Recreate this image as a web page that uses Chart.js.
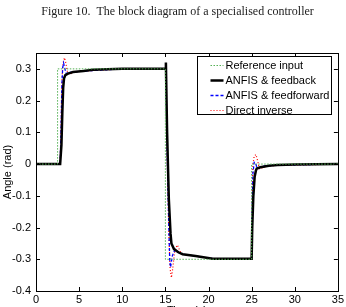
<!DOCTYPE html>
<html>
<head>
<meta charset="utf-8">
<script src="https://cdn.jsdelivr.net/npm/chart.js@4"></script>
<style>
  body { margin: 0; background: #fff; overflow: hidden; }
  #wrap { width: 346px; height: 322px; }
</style>
</head>
<body>
<div id="wrap"><canvas id="chart"></canvas></div>
<script>
// tick values
const xTicks = [0, 5, 10, 15, 20, 25, 30, 35];
const yTicks = [-0.4, -0.3, -0.2, -0.1, 0, 0.1, 0.2, 0.3];

// reference input (step)
const refTime = [0, 2.5, 2.5, 15, 15, 25, 25, 35];
const refAngle = [0, 0, 0.3, 0.3, -0.3, -0.3, 0, 0];

// ANFIS & feedback
const fbTime = [0, 2.8, 2.95, 3.05, 3.15, 3.25, 3.4, 3.7, 4.3, 5.5, 6.6, 10, 15, 15.06, 15.2, 15.4, 15.6, 15.7, 16, 16.5, 17, 18.5, 20.5, 25, 25.07, 25.2, 25.35, 25.5, 25.6, 26, 27, 28, 30, 35];
const fbAngle = [0, 0, 0.06, 0.16, 0.24, 0.27, 0.28, 0.285, 0.29, 0.293, 0.297, 0.3, 0.3, 0.32, 0.1, -0.11, -0.22, -0.25, -0.268, -0.278, -0.284, -0.29, -0.298, -0.298, -0.2, -0.1, -0.04, -0.02, -0.014, -0.01, -0.005, -0.003, -0.001, 0];

// ANFIS & feedforward
const ffTime = [0, 2.8, 2.9, 3.0, 3.1, 3.2, 3.35, 3.5, 3.8, 4.3, 5.5, 10, 15, 15.05, 15.2, 15.4, 15.5, 15.6, 15.8, 16.1, 16.5, 17, 18.5, 20.5, 25, 25.05, 25.15, 25.3, 25.45, 25.6, 25.9, 26.5, 28, 35];
const ffAngle = [0, 0, 0.1, 0.25, 0.305, 0.318, 0.3, 0.285, 0.288, 0.29, 0.293, 0.3, 0.3, 0.3, 0.05, -0.2, -0.3, -0.325, -0.29, -0.27, -0.278, -0.284, -0.29, -0.298, -0.298, -0.15, -0.03, 0.006, 0.004, -0.01, -0.012, -0.006, -0.003, 0];

// Direct inverse
const diTime = [0, 2.8, 2.9, 3.0, 3.1, 3.2, 3.3, 3.45, 3.65, 3.9, 4.3, 5.5, 10, 15, 15.05, 15.2, 15.4, 15.55, 15.7, 15.85, 16.1, 16.4, 16.7, 17, 18.5, 20.5, 25, 25.05, 25.15, 25.3, 25.5, 25.7, 25.9, 26.3, 27, 35];
const diAngle = [0, 0, 0.12, 0.26, 0.31, 0.325, 0.335, 0.32, 0.29, 0.282, 0.29, 0.293, 0.3, 0.3, 0.3, 0.05, -0.22, -0.33, -0.358, -0.33, -0.27, -0.255, -0.275, -0.284, -0.29, -0.298, -0.298, -0.12, 0.0, 0.025, 0.03, 0.01, -0.015, -0.012, -0.005, 0];

const seriesLabels = ["Reference input", "ANFIS & feedback", "ANFIS & feedforward", "Direct inverse"];
const caption = "Figure 10.  The block diagram of a specialised controller";

function toPoints(t, v) {
  return t.map((x, i) => ({ x: x, y: v[i] }));
}

const FONT = "'Liberation Sans', Arial, sans-serif";

// caption, box, inside ticks and legend drawn like the matlab figure
const matlabFrame = {
  id: "matlabFrame",
  afterDatasetsDraw(chart) {
    const ctx = chart.ctx;
    const a = chart.chartArea;
    const xs = chart.scales.x, ys = chart.scales.y;
    ctx.save();

    ctx.fillStyle = "#222";
    ctx.font = "12px 'Liberation Serif', 'Times New Roman', serif";
    ctx.textAlign = "center";
    ctx.textBaseline = "middle";
    ctx.fillText(caption, 177.5, 11.5);
    ctx.textAlign = "left";

    ctx.strokeStyle = "#000";
    ctx.lineWidth = 1;
    ctx.beginPath();
    xTicks.forEach(v => {
      const px = Math.round(xs.getPixelForValue(v)) + 0.5;
      ctx.moveTo(px, a.bottom); ctx.lineTo(px, a.bottom - 4);
      ctx.moveTo(px, a.top); ctx.lineTo(px, a.top + 4);
    });
    yTicks.forEach(v => {
      const py = Math.round(ys.getPixelForValue(v)) + 0.5;
      ctx.moveTo(a.left, py); ctx.lineTo(a.left + 4, py);
      ctx.moveTo(a.right, py); ctx.lineTo(a.right - 4, py);
    });
    ctx.stroke();
    ctx.strokeRect(Math.round(a.left) + 0.5, Math.round(a.top) + 0.5, Math.round(a.right - a.left), Math.round(a.bottom - a.top));

    // legend
    const bx = 197.5, by = 56.5, bw = 134, bh = 58;
    ctx.fillStyle = "#fff";
    ctx.fillRect(bx, by, bw, bh);
    ctx.strokeRect(bx, by, bw, bh);
    ctx.font = "11px " + FONT;
    ctx.textBaseline = "middle";
    chart.data.datasets.forEach((ds, i) => {
      const y = by + 9 + i * 15;
      ctx.strokeStyle = ds.borderColor;
      ctx.lineWidth = ds.borderWidth;
      ctx.setLineDash(ds.borderDash || []);
      ctx.beginPath();
      ctx.moveTo(bx + 13, y); ctx.lineTo(bx + 26, y);
      ctx.stroke();
      ctx.setLineDash([]);
      ctx.fillStyle = "#000";
      ctx.fillText(ds.label, bx + 28, y);
    });
    ctx.restore();
  }
};

new Chart(document.getElementById("chart"), {
  type: "line",
  data: {
    datasets: [
      { label: seriesLabels[0], data: toPoints(refTime, refAngle), borderColor: "#55b055", borderWidth: 1, borderDash: [1.5, 1.5] },
      { label: seriesLabels[1], data: toPoints(fbTime, fbAngle), borderColor: "#000", borderWidth: 2.5 },
      { label: seriesLabels[2], data: toPoints(ffTime, ffAngle), borderColor: "#0000ff", borderWidth: 1.3, borderDash: [3, 2] },
      { label: seriesLabels[3], data: toPoints(diTime, diAngle), borderColor: "#ff0000", borderWidth: 1.2, borderDash: [1, 2] }
    ]
  },
  options: {
    responsive: true,
    maintainAspectRatio: false,
    animation: false,
    layout: { padding: { left: 0, right: 8, top: 53, bottom: 0 } },
    elements: { point: { radius: 0 }, line: { tension: 0 } },
    plugins: {
      legend: { display: false },
      tooltip: { enabled: false },
      title: { display: false }
    },
    scales: {
      x: {
        type: "linear",
        min: 0, max: 35,
        afterBuildTicks: s => { s.ticks = xTicks.map(v => ({ value: v })); },
        afterFit: s => { s.height = 31; },
        grid: { display: false, drawTicks: false },
        border: { display: false },
        ticks: { color: "#000", padding: 2, font: { family: FONT, size: 11 }, maxRotation: 0 },
        title: { display: true, text: "Time (s)", color: "#000", font: { family: FONT, size: 11 }, padding: { top: 0, bottom: 4 } }
      },
      y: {
        type: "linear",
        min: -0.4, max: 0.35,
        afterBuildTicks: s => { s.ticks = yTicks.map(v => ({ value: v })); },
        afterFit: s => { s.width = 36; },
        grid: { display: false, drawTicks: false },
        border: { display: false },
        ticks: {
          color: "#000", padding: 5, font: { family: FONT, size: 11 },
          callback: v => (Math.abs(v) < 1e-9 ? "0" : v.toFixed(1))
        },
        title: { display: true, text: "Angle (rad)", color: "#000", font: { family: FONT, size: 11 }, padding: 1 }
      }
    }
  },
  plugins: [matlabFrame]
});
</script>
</body>
</html>
